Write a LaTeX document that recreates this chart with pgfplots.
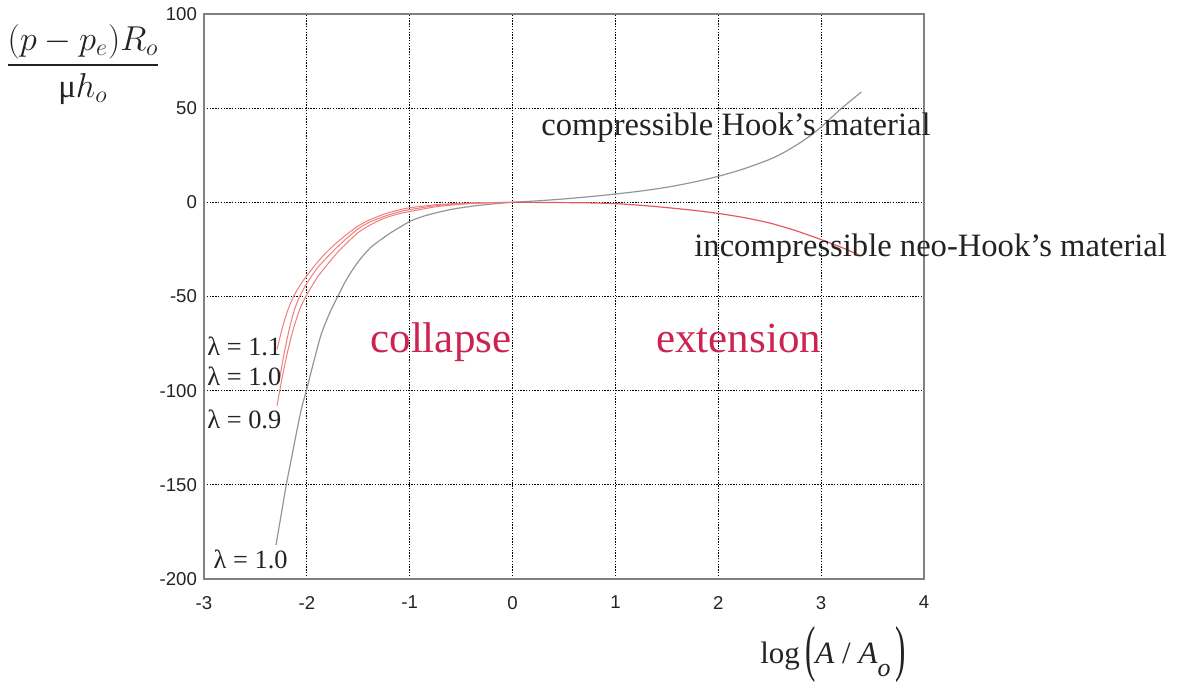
\documentclass[border=0pt]{standalone}
\usepackage{amsmath}
\usepackage{graphicx}
\usepackage{fontspec}
\setmainfont{Liberation Serif}
\setsansfont{Liberation Sans}
\usepackage{pgfplots}
\pgfplotsset{compat=1.18}
\definecolor{redc}{RGB}{228,90,95}
\definecolor{redl}{RGB}{240,125,125}
\definecolor{grayc}{RGB}{150,150,150}
\definecolor{labred}{RGB}{205,35,80}
\definecolor{txt}{RGB}{35,35,35}
\newcommand{\bigparen}[1]{\raisebox{-3pt}{\scalebox{1}[2.0]{#1}}}
\begin{document}
\begin{tikzpicture}
\path[use as bounding box] (0,0) rectangle (597.5pt,344pt);
\begin{axis}[
  at={(102pt,54.5pt)}, anchor=south west,
  scale only axis, width=360pt, height=282.5pt,
  xmin=-3, xmax=4, ymin=-200, ymax=100,
  xtick={-3,-2,-1,0,1,2,3,4}, xticklabels={-3,-2,-1,0,1,2,3,4},
  ytick={-200,-150,-100,-50,0,50,100}, yticklabels={-200,-150,-100,-50,0,50,100},
  ticklabel style={font=\sffamily\fontsize{9.3}{10}\selectfont, text=txt},
  xticklabel style={yshift=-5pt},
  major tick length=0pt,
  grid=major,
  grid style={black, line width=0.5pt, dash pattern=on 0.7pt off 0.7pt},
  axis line style={gray, line width=0.6pt},
  clip=false,
]
% compressible Hook's material (lambda = 1.0)
\addplot[grayc, line width=0.6pt, smooth, tension=0.4] coordinates {
(-2.30,-182) (-2.25,-166) (-2.20,-150) (-2.15,-136) (-2.10,-122) (-2.05,-109)
(-2.00,-99) (-1.93,-84) (-1.86,-70) (-1.78,-59) (-1.70,-50) (-1.63,-42.5)
(-1.57,-37) (-1.50,-31.5) (-1.44,-27.5) (-1.38,-24) (-1.31,-21) (-1.18,-16)
(-1.00,-10.2) (-0.90,-8) (-0.79,-6.2) (-0.60,-3.8) (-0.40,-2.1) (-0.20,-0.9)
(0,0) (0.25,0.8) (0.5,1.8) (0.75,3) (1.0,4.4) (1.25,6) (1.5,8) (1.75,10.6)
(2.0,13.8) (2.25,17.8) (2.5,22.8) (2.65,26.8) (2.8,31.8) (2.9,35.6) (3.0,40) (3.1,45) (3.2,50) (3.3,54.5) (3.39,58.6)
};
% incompressible neo-Hook, lambda = 1.1
\addplot[redl, line width=0.5pt, smooth, tension=0.4] coordinates {
(-2.29,-78) (-2.24,-67) (-2.19,-58) (-2.13,-50) (-2.06,-43.5) (-2.00,-39)
(-1.90,-32) (-1.80,-26) (-1.70,-21) (-1.60,-16.5) (-1.50,-12.5) (-1.40,-9.6)
(-1.25,-6.3) (-1.10,-4) (-1.00,-2.9) (-0.75,-1.3) (-0.50,-0.5) (-0.25,-0.15) (0,0)
};
% lambda = 1.0
\addplot[redl, line width=0.5pt, smooth, tension=0.4] coordinates {
(-2.27,-95) (-2.22,-80) (-2.17,-67) (-2.12,-57) (-2.07,-50) (-2.00,-43)
(-1.90,-35) (-1.80,-29) (-1.70,-23.5) (-1.60,-18.5) (-1.50,-14) (-1.40,-10.8)
(-1.25,-7.5) (-1.10,-5) (-1.00,-3.9) (-0.75,-1.8) (-0.50,-0.8) (-0.25,-0.25) (0,0)
};
% lambda = 0.9
\addplot[redl, line width=0.5pt, smooth, tension=0.4] coordinates {
(-2.29,-108) (-2.24,-93) (-2.19,-80) (-2.13,-67) (-2.07,-57) (-2.01,-50)
(-1.90,-40) (-1.80,-33) (-1.70,-26.5) (-1.60,-21) (-1.50,-16) (-1.40,-12.5)
(-1.25,-8.5) (-1.10,-6) (-1.00,-4.9) (-0.75,-2.4) (-0.50,-1.0) (-0.25,-0.3) (0,0)
};
% extension branch
\addplot[redc, line width=0.6pt, smooth, tension=0.4] coordinates {
(0,0) (0.25,-0.05) (0.5,-0.15) (0.75,-0.3) (1.0,-0.7) (1.25,-1.6) (1.5,-2.8)
(1.75,-4.2) (2.0,-5.9) (2.25,-8.1) (2.5,-11) (2.75,-15) (3.0,-19.8) (3.2,-24) (3.37,-28)
};
\node[anchor=base west, inner sep=0pt, text=txt, font=\fontsize{16.3}{18}\selectfont]
  at (axis cs:0.276,35.7) {compressible Hook’s material};
\node[anchor=base west, inner sep=0pt, text=txt, font=\fontsize{16.3}{18}\selectfont]
  at (axis cs:1.764,-29.0) {incompressible neo-Hook’s material};
\node[anchor=base west, inner sep=0pt, text=labred, font=\fontsize{21.5}{24}\selectfont]
  at (axis cs:-1.386,-79.5) {collapse};
\node[anchor=base west, inner sep=0pt, text=labred, font=\fontsize{21.5}{24}\selectfont]
  at (axis cs:1.394,-79.5) {extension};
\node[anchor=base west, inner sep=0pt, text=txt, font=\fontsize{13.2}{15}\selectfont]
  at (axis cs:-2.971,-81.4) {λ = 1.1};
\node[anchor=base west, inner sep=0pt, text=txt, font=\fontsize{13.2}{15}\selectfont]
  at (axis cs:-2.971,-97.0) {λ = 1.0};
\node[anchor=base west, inner sep=0pt, text=txt, font=\fontsize{13.2}{15}\selectfont]
  at (axis cs:-2.971,-120.0) {λ = 0.9};
\node[anchor=base west, inner sep=0pt, text=txt, font=\fontsize{13.2}{15}\selectfont]
  at (axis cs:-2.91,-194.3) {λ = 1.0};
% y label
\node[anchor=base, inner sep=0pt, text=txt, font=\fontsize{16.5}{19}\selectfont]
  at (axis cs:-4.176,68.3) {$\dfrac{(p-p_e)R_o}{\mbox{μ}h_o}$};
% x label
\node[anchor=base west, inner sep=0pt, text=txt, font=\fontsize{15.5}{18}\selectfont]
  at (axis cs:2.405,-245) {log\,\bigparen{(}\textit{A} / \textit{A}\raisebox{-0.42em}{\fontsize{13}{14}\selectfont\textit{o}}\,\bigparen{)}};
\end{axis}
\end{tikzpicture}
\end{document}
